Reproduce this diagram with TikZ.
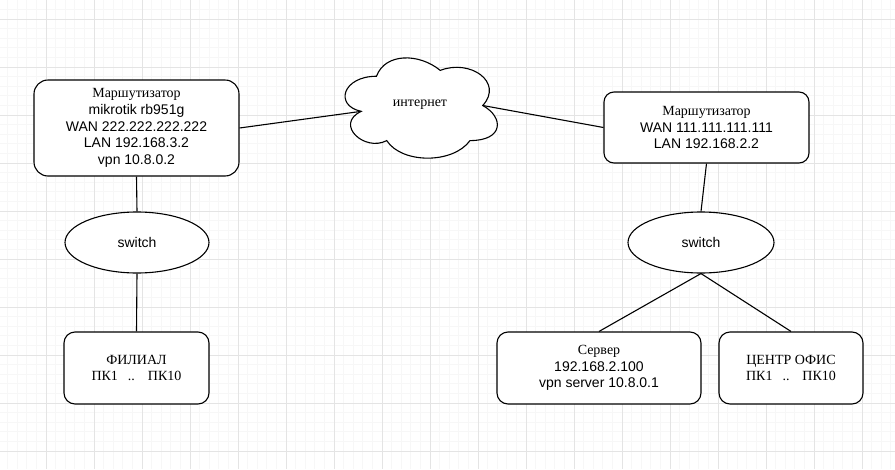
\documentclass[tikz,border=0pt]{standalone}
\usepackage{fontspec}
\setmainfont{Liberation Sans}
\newfontfamily\rufont{Liberation Serif}
\usetikzlibrary{shapes.geometric}
\definecolor{gmaj}{RGB}{228,228,228}
\definecolor{gmin}{RGB}{247,247,247}
\tikzset{
  conn/.style={draw=black, line width=1.1pt},
  boxnode/.style={draw=black, fill=white, line width=1.1pt, rounded corners=14pt, align=center, inner sep=0pt,
    font=\fontsize{14}{16.8}\selectfont},
  swnode/.style={draw=black, fill=white, line width=1.1pt, ellipse, inner sep=0pt,
    font=\fontsize{14}{16.8}\selectfont},
}
\begin{document}
\begin{tikzpicture}[x=1pt,y=-1pt]
\useasboundingbox (0,0) rectangle (895,469);
\fill[white] (0,0) rectangle (895,469);
% grid
\foreach \i in {0,...,94} {
  \draw[gmin, line width=0.7pt] ({\i*9.6-2},0) -- ({\i*9.6-2},469);
}
\foreach \i in {0,...,50} {
  \draw[gmin, line width=0.7pt] (0,{\i*9.6-29}) -- (895,{\i*9.6-29});
}
\foreach \i in {0,...,19} {
  \draw[gmaj, line width=0.8pt] ({\i*48-2},0) -- ({\i*48-2},469);
}
\foreach \i in {0,...,10} {
  \draw[gmaj, line width=0.8pt] (0,{\i*48+19}) -- (895,{\i*48+19});
}

% cloud
\begin{scope}[shift={(334,47)}, x=170pt, y=-117pt]
  \draw[fill=white, line width=1.1pt]
    (0.25,0.25) .. controls (0.05,0.25) and (0,0.5) .. (0.16,0.55)
    .. controls (0,0.66) and (0.18,0.9) .. (0.31,0.8)
    .. controls (0.4,1) and (0.7,1) .. (0.8,0.8)
    .. controls (1,0.8) and (1,0.6) .. (0.875,0.5)
    .. controls (1,0.3) and (0.8,0.1) .. (0.625,0.2)
    .. controls (0.5,0.05) and (0.3,0.05) .. (0.25,0.25) -- cycle;
  \coordinate (cl) at (0.16,0.55);
  \coordinate (cr) at (0.875,0.5);
  \node[font=\rufont\fontsize{14}{16.8}\selectfont, inner sep=0pt] (inet) at (0.506,0.496) {интернет};
\end{scope}

% nodes
\node[boxnode, minimum width=205pt, minimum height=96pt] (r1) at (136.5,128)
  {{\rufont Маршутизатор}\\mikrotik rb951g\\WAN 222.222.222.222\\LAN 192.168.3.2\\vpn 10.8.0.2};
\node[boxnode, rounded corners=10pt, minimum width=205pt, minimum height=71pt] (r2) at (706.5,127.5)
  {{\rufont Маршутизатор}\\WAN 111.111.111.111\\LAN 192.168.2.2};
\node[swnode, minimum width=144pt, minimum height=61pt] (sw1) at (137,242.5) {switch};
\node[swnode, minimum width=146pt, minimum height=61pt] (sw2) at (701,242.5) {switch};
\node[boxnode, rounded corners=11pt, minimum width=145pt, minimum height=72pt] (pc1) at (136.5,368)
  {{\rufont ФИЛИАЛ}\\{\rufont ПК1\hspace{10pt}..\hspace{13pt}ПК10}};
\node[boxnode, rounded corners=11pt, minimum width=204pt, minimum height=72pt] (srv) at (599,368)
  {{\rufont Сервер}\\192.168.2.100\\vpn server 10.8.0.1};
\node[boxnode, rounded corners=11pt, minimum width=144pt, minimum height=72pt] (pc2) at (791,368)
  {{\rufont ЦЕНТР ОФИС}\\{\rufont ПК1\hspace{10pt}..\hspace{13pt}ПК10}};

% connectors
\draw[conn] (r1.east) -- (cl);
\draw[conn] (cr) -- (r2.west);
\draw[conn] (r1.south) -- (sw1.north);
\draw[conn] (sw1.south) -- (pc1.north);
\draw[conn] (r2.south) -- (sw2.north);
\draw[conn] (sw2.south) -- (srv.north);
\draw[conn] (sw2.south) -- (pc2.north);
\end{tikzpicture}
\end{document}
